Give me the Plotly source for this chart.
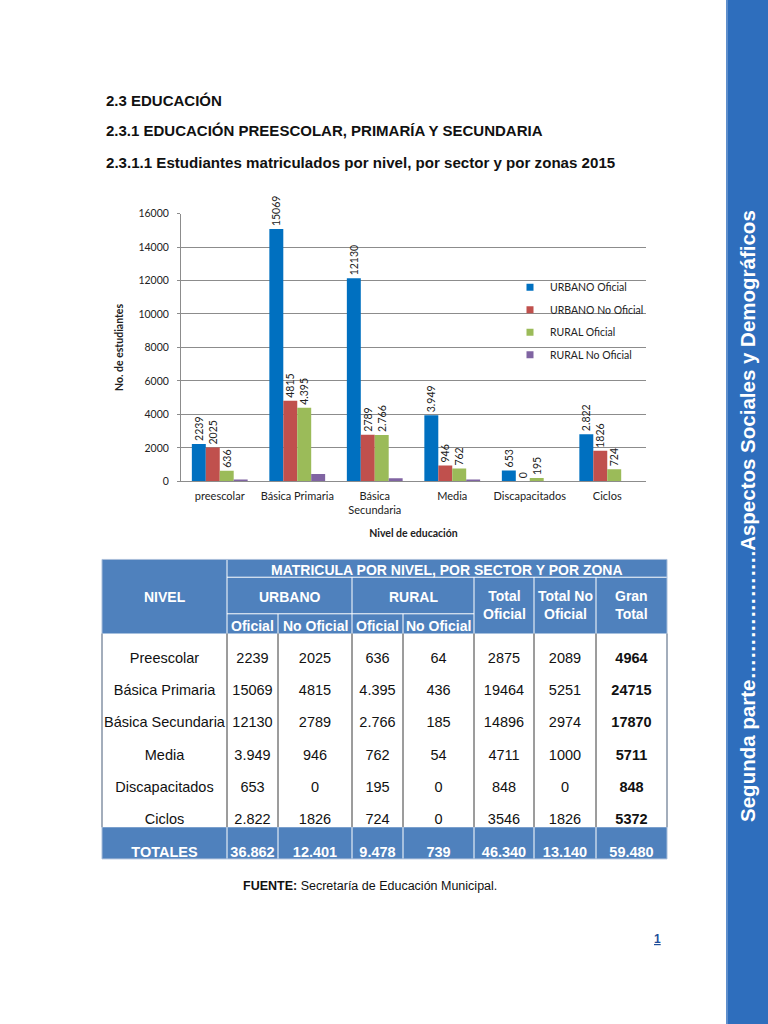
import plotly.graph_objects as go

# ---------------- DATA ----------------
categorias = ["preescolar", "Básica Primaria", "Básica<br>Secundaria", "Media", "Discapacitados", "Ciclos"]
series_nombres = ["URBANO Oficial", "URBANO No Oficial", "RURAL Oficial", "RURAL No Oficial"]
urbano_oficial = [2239, 15069, 12130, 3949, 653, 2822]
urbano_no_oficial = [2025, 4815, 2789, 946, 0, 1826]
rural_oficial = [636, 4395, 2766, 762, 195, 724]
rural_no_oficial = [64, 436, 185, 54, 0, 0]
etq_urbano_oficial = ["2239", "15069", "12130", "3.949", "653", "2.822"]
etq_urbano_no_oficial = ["2025", "4815", "2789", "946", "0", "1826"]
etq_rural_oficial = ["636", "4.395", "2.766", "762", "195", "724"]
y_ticks = [0, 2000, 4000, 6000, 8000, 10000, 12000, 14000, 16000]

tabla_niveles = ["Preescolar", "Básica Primaria", "Básica Secundaria", "Media", "Discapacitados", "Ciclos"]
tabla_urbano_oficial = ["2239", "15069", "12130", "3.949", "653", "2.822"]
tabla_urbano_no_oficial = ["2025", "4815", "2789", "946", "0", "1826"]
tabla_rural_oficial = ["636", "4.395", "2.766", "762", "195", "724"]
tabla_rural_no_oficial = ["64", "436", "185", "54", "0", "0"]
tabla_total_oficial = ["2875", "19464", "14896", "4711", "848", "3546"]
tabla_total_no_oficial = ["2089", "5251", "2974", "1000", "0", "1826"]
tabla_gran_total = ["4964", "24715", "17870", "5711", "848", "5372"]
tabla_totales = ["TOTALES", "36.862", "12.401", "9.478", "739", "46.340", "13.140", "59.480"]

# ---------------- STYLE ----------------
W, H = 768, 1024
BLUE = "#0070C0"
RED = "#C0504D"
GREEN = "#9BBB59"
PURPLE = "#8064A2"
HDR = "#4F81BD"
SIDE = "#2E6EBD"
GRID = "#8C8C8C"
CHART_FONT = "Lato"
DOC_FONT = "Liberation Sans"

fig = go.Figure()

# ---- bars ----
vals = [urbano_oficial, urbano_no_oficial, rural_oficial, rural_no_oficial]
etqs = [etq_urbano_oficial, etq_urbano_no_oficial, etq_rural_oficial, None]
cols = [BLUE, RED, GREEN, PURPLE]
for nombre, v, t, c in zip(series_nombres, vals, etqs, cols):
    fig.add_trace(go.Bar(
        x=categorias, y=v, name=nombre, marker=dict(color=c, line=dict(width=0)),
        text=t, textposition="outside" if t else "none", textangle=-90,
        textfont=dict(family=CHART_FONT, size=10.5, color="#222"),
        cliponaxis=False, constraintext="none", showlegend=False, hoverinfo="skip",
    ))
# legend entries (small square swatches)
for i, (nombre, c) in enumerate(zip(series_nombres, cols)):
    fig.add_trace(go.Scatter(
        x=[None], y=[None], mode="markers", name=nombre,
        marker=dict(symbol="square", size=7, color=c),
        legendgroup=f"g{i}", showlegend=True,
    ))

# ---- table body text (on a pixel-coordinate overlay axis) ----
col_x = [102, 227, 278, 352, 403, 474, 534, 596, 667]
col_c = [(col_x[i] + col_x[i + 1]) / 2 for i in range(len(col_x) - 1)]
hdr_top, hdr_r1, hdr_r2, hdr_bot = 560, 578, 615, 635
row_h = (831 - hdr_bot) / 6
body_rows = [hdr_bot + row_h * i for i in range(7)]
tot_top, tot_bot = 831, 863

cuerpo = [tabla_niveles, tabla_urbano_oficial, tabla_urbano_no_oficial, tabla_rural_oficial,
          tabla_rural_no_oficial, tabla_total_oficial, tabla_total_no_oficial, tabla_gran_total]
for j, columna in enumerate(cuerpo):
    txt = [f"<b>{s}</b>" if j == 7 else s for s in columna]
    fig.add_trace(go.Scatter(
        x=[col_c[j]] * len(columna), y=[body_rows[i] + 26 for i in range(len(columna))],
        text=txt, mode="text", textposition="middle center",
        textfont=dict(family=DOC_FONT, size=14.5, color="#111"),
        xaxis="x2", yaxis="y2", showlegend=False, hoverinfo="skip",
    ))
fig.add_trace(go.Scatter(
    x=col_c, y=[tot_top + 26] * len(tabla_totales),
    text=[f"<b>{s}</b>" for s in tabla_totales], mode="text", textposition="middle center",
    textfont=dict(family=DOC_FONT, size=14.5, color="white"),
    xaxis="x2", yaxis="y2", showlegend=False, hoverinfo="skip",
))

shapes = []
def rect(x0, y0, x1, y1, fill, line=None, lw=0):
    shapes.append(dict(type="rect", xref="x2", yref="y2", x0=x0, y0=y0, x1=x1, y1=y1,
                       fillcolor=fill, line=dict(width=lw, color=line or fill), layer="below"))
def line(x0, y0, x1, y1, color, w=1):
    shapes.append(dict(type="line", xref="x2", yref="y2", x0=x0, y0=y0, x1=x1, y1=y1,
                       line=dict(color=color, width=w), layer="below"))

# sidebar (paper coordinates so it reaches the page edges)
shapes.append(dict(type="rect", xref="paper", yref="paper", x0=726 / W, x1=1.02, y0=-0.02, y1=1.02,
                   fillcolor=SIDE, line=dict(width=0), layer="below"))
shapes.append(dict(type="line", xref="paper", yref="paper", x0=727 / W, x1=727 / W, y0=-0.02, y1=1.02,
                   line=dict(color="#8FB0DC", width=1), layer="below"))
# header
rect(col_x[0], hdr_top, col_x[-1], hdr_bot, HDR)
line(col_x[1], hdr_r1, col_x[-1], hdr_r1, "white")
line(col_x[1], hdr_r2, col_x[5], hdr_r2, "white")
line(col_x[1], hdr_top, col_x[1], hdr_bot, "white")
for k in [2, 4]:
    line(col_x[k], hdr_r2, col_x[k], hdr_bot, "white")
for k in [3, 5, 6, 7]:
    line(col_x[k], hdr_r1, col_x[k], hdr_bot, "white")
# body vertical lines
for xv in col_x:
    line(xv, hdr_bot, xv, tot_top, "#3A3A3A")
# totals row
rect(col_x[0], tot_top, col_x[-1], tot_bot, HDR)
for xv in col_x[1:-1]:
    line(xv, tot_top, xv, tot_bot, "white")
# outer border
shapes.append(dict(type="rect", xref="x2", yref="y2", x0=col_x[0], y0=hdr_top, x1=col_x[-1], y1=tot_bot,
                   line=dict(color="#A9BEDA", width=1), fillcolor="rgba(0,0,0,0)", layer="below"))

ann = []
def text(x, y, s, size, color="#111", bold=False, xanchor="center", family=DOC_FONT, angle=0):
    ann.append(dict(xref="x2", yref="y2", x=x, y=y, text=f"<b>{s}</b>" if bold else s,
                    showarrow=False, xanchor=xanchor, yanchor="middle", textangle=angle,
                    font=dict(family=family, size=size, color=color)))

# headings
text(104, 96, "2.3 EDUCACIÓN", 15, bold=True, xanchor="left")
text(104, 126, "2.3.1 EDUCACIÓN PREESCOLAR, PRIMARÍA Y SECUNDARIA", 15, bold=True, xanchor="left")
text(104, 158, "2.3.1.1 Estudiantes matriculados por nivel, por sector y por zonas 2015", 15.1, bold=True, xanchor="left")
# table header
text((col_x[1] + col_x[-1]) / 2, 571, "MATRICULA POR NIVEL, POR SECTOR Y POR ZONA", 14, "white", True)
text(col_c[0], 598, "NIVEL", 14, "white", True)
text((col_x[1] + col_x[3]) / 2, 598, "URBANO", 14, "white", True)
text((col_x[3] + col_x[5]) / 2, 598, "RURAL", 14, "white", True)
text(col_c[5], 606, "Total<br>Oficial", 14, "white", True)
text(col_c[6], 606, "Total No<br>Oficial", 14, "white", True)
text(col_c[7], 606, "Gran<br>Total", 14, "white", True)
for k, s in zip([1, 2, 3, 4], ["Oficial", "No Oficial", "Oficial", "No Oficial"]):
    text(col_c[k], 627, s, 14, "white", True)
# source and page
text(370, 890, "<b>FUENTE:</b> Secretaría de Educación Municipal.", 12.5)
text(657, 944, "<b><u>1</u></b>", 12, color="#1F4E9A")
# sidebar text
text(748, 516, "<b>Segunda parte……………….Aspectos Sociales y Demográficos</b>", 20.5, "white", angle=-90)

fig.update_layout(
    width=W, height=H, margin=dict(l=0, r=0, t=0, b=0),
    paper_bgcolor="white", plot_bgcolor="rgba(0,0,0,0)",
    barmode="group", bargap=0.28, bargroupgap=0,
    shapes=shapes, annotations=ann,
    showlegend=True,
    legend=dict(x=510 / W, y=1 - 270 / H, xanchor="left", yanchor="top",
                bgcolor="rgba(0,0,0,0)", font=dict(family=CHART_FONT, size=10.5, color="#222"),
                tracegroupgap=3.5, itemwidth=30),
    xaxis=dict(domain=[181 / W, 646 / W], anchor="y", showline=True, linecolor=GRID,
               ticks="", ticklabelstandoff=4, tickfont=dict(family=CHART_FONT, size=11, color="#222"),
               title=dict(text="<b>Nivel de educación</b>", standoff=14,
                          font=dict(family=CHART_FONT, size=10.5, color="#222"))),
    yaxis=dict(domain=[1 - 481 / H, 1 - 210 / H], anchor="x", range=[0, 16000],
               tickvals=y_ticks, tickformat="d", showgrid=True, gridcolor=GRID, showline=True, linecolor=GRID,
               ticks="outside", ticklen=3, tickcolor=GRID, zeroline=False, ticklabelstandoff=6,
               tickfont=dict(family=CHART_FONT, size=10.5, color="#222"),
               title=dict(text="<b>No. de estudiantes</b>", standoff=12,
                          font=dict(family=CHART_FONT, size=10.5, color="#222"))),
    xaxis2=dict(domain=[0, 1], range=[0, W], anchor="y2", visible=False, fixedrange=True),
    yaxis2=dict(domain=[0, 1], range=[H, 0], anchor="x2", visible=False, fixedrange=True),
)

fig.write_html("out.html", config={"displayModeBar": False},
               post_script="document.body.style.margin='0';document.body.style.overflow='hidden';")
